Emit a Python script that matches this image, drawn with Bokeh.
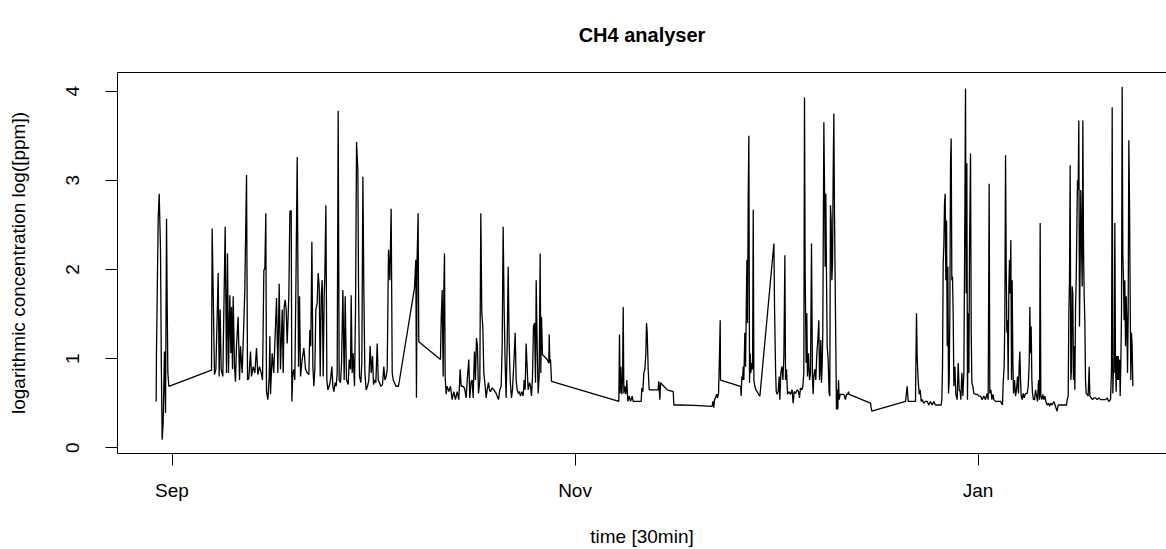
import pandas as pd
from bokeh.plotting import figure
from bokeh.models import Range1d, FixedTicker, DatetimeTickFormatter, LinearAxis, ColumnDataSource
from bokeh.embed import file_html
from bokeh.resources import INLINE

# ---- data ----
series_start = "2013-09-01"
# time of each reading, in days after series_start
day_offset = [
    -2.40, -2.35, -2.09, -1.94, -1.74, -1.62, -1.49, -1.34, -1.14, -0.98, -0.83, -0.73, -0.63, -0.48,
    5.98, 6.08, 6.43, 6.64, 6.99, 7.14, 7.29, 7.44, 7.69, 8.05, 8.25, 8.40, 8.55, 8.75, 8.91, 9.01, 9.16,
    9.26, 9.46, 9.61, 9.76, 10.01, 10.22, 10.37, 10.62, 10.87, 11.02, 11.28, 11.43, 11.63, 11.88,
    12.03, 12.29, 12.54, 12.79, 12.99, 13.24, 13.50, 13.70, 13.90, 14.05, 14.20, 14.30, 14.51,
    14.71, 14.81,
    14.91, 15.16, 15.40, 15.82, 16.02, 16.22, 16.42, 16.68, 16.83, 16.98, 17.13, 17.28, 17.43,
    17.68, 17.84, 18.04, 18.14, 18.29, 18.44, 18.59, 18.74, 18.95, 19.15, 19.30, 19.45, 19.70,
    19.96, 20.21, 20.46, 20.71, 20.86, 21.01, 21.17, 21.32, 21.47, 21.62, 21.77, 21.97, 22.12,
    22.28, 22.43, 22.58, 22.73, 22.88, 23.03, 23.13, 23.29, 23.44, 23.59, 23.79, 23.99, 24.19,
    24.35, 24.50, 24.70, 24.85, 25.00, 25.15, 25.30, 25.51, 25.66, 25.86, 26.06, 26.21, 26.41,
    26.67, 26.82, 27.02, 27.12, 27.27, 27.42, 27.62, 27.78, 27.93, 28.13, 28.23, 28.38, 28.58,
    28.73, 28.89, 29.04, 29.19, 29.39, 29.59, 29.79, 29.99, 30.15, 30.35, 30.50, 30.70, 30.85,
    31.06, 31.21, 31.41, 31.61, 31.86, 32.06, 32.22, 32.42, 32.57, 32.77, 32.97, 33.17, 33.33,
    33.48, 33.68, 33.88, 34.28,
    36.70, 36.90, 37.00, 37.10, 37.25, 37.35, 40.63, 40.74, 40.89, 41.04, 41.14, 41.24, 41.34,
    41.49, 41.64, 41.90, 42.15, 42.40, 42.65, 42.90, 43.16, 43.41, 43.61, 43.76, 44.01, 44.27,
    44.52, 44.67, 44.92, 45.07, 45.28, 45.43, 45.58, 45.78, 45.93, 46.08, 46.23, 46.39, 46.59,
    46.74, 46.89, 47.04, 47.19, 47.35, 47.55, 47.70, 47.90, 48.05, 48.20, 48.45, 48.71, 49.06,
    49.41, 49.62, 49.82, 49.97, 50.12, 50.27, 50.42, 50.57, 50.73, 50.88, 51.03, 51.18, 51.38,
    51.53, 51.74, 51.94, 52.09, 52.24, 52.44, 52.59, 52.74, 52.95, 53.15, 53.30, 53.45, 53.60,
    53.75, 53.90, 54.11,
    54.26, 54.41, 54.56, 54.71, 54.87, 55.02, 55.12, 55.27, 55.42, 55.57, 55.72, 55.82, 55.92,
    56.08, 56.28, 56.53, 56.78, 57.03, 57.09, 57.19, 57.29, 57.44, 67.63, 67.73, 67.83, 67.93,
    68.08, 68.19, 68.29, 68.39, 68.54, 68.69, 68.84, 68.99, 69.19, 69.40, 69.65, 69.80, 70.15,
    70.66, 71.01, 71.11, 71.26, 71.41, 71.57, 71.72, 71.82, 71.92, 72.07, 72.22, 72.68, 73.18,
    73.58, 73.68, 73.84, 73.94,
    74.19, 74.44, 74.95, 75.86, 75.96, 76.97, 78.99, 81.76, 81.86, 82.01, 82.11, 82.26, 82.42,
    82.57, 82.72, 82.87, 82.97, 83.02, 86.05, 86.15, 86.25, 86.35, 86.45, 86.55, 86.70, 86.81,
    86.91, 87.01, 87.11, 87.21, 87.31, 87.41, 87.51, 87.61, 87.76, 87.87, 87.97, 88.07, 88.22,
    88.37, 88.57, 88.77, 88.98, 91.10, 91.20, 91.35, 91.45, 91.60, 91.75, 91.90, 92.00, 92.15,
    92.31, 92.46, 92.61, 92.76, 92.86, 93.01, 93.16, 93.36, 93.62,
    93.86, 94.01, 94.17, 94.37, 94.62, 94.82, 94.97, 95.12, 95.33, 95.48, 95.63, 95.73, 95.83,
    95.98, 96.08, 96.18, 96.33, 96.49, 96.64, 96.79, 96.94, 97.04, 97.14, 97.29, 97.44, 97.60,
    97.75, 97.90, 98.00, 98.10, 98.20, 98.30, 98.40, 98.50, 98.66, 98.76, 98.86, 98.96, 99.06,
    99.16, 99.31, 99.46, 99.56, 99.66, 99.77, 99.87, 99.97, 100.07, 100.17, 100.27, 100.37,
    100.47, 100.57, 100.67, 100.77, 100.88, 100.98, 101.13, 101.43, 101.68, 101.93, 102.09,
    102.29, 102.39, 102.49, 105.72, 105.82, 105.92, 111.02, 111.27, 111.42, 112.53, 112.68,
    112.78, 112.93, 113.09, 113.24, 113.39, 113.54, 113.79, 114.04,
    114.30, 114.55, 114.80, 115.06, 115.31, 115.56, 115.81, 116.07, 116.42, 116.52, 116.62,
    116.72, 116.82, 116.92, 117.02, 117.12, 117.23, 117.33, 117.43, 117.53, 117.63, 117.73,
    117.83, 117.93, 118.03, 118.13, 118.23, 118.34, 118.49, 118.64, 118.84, 118.99, 119.14,
    119.29, 119.39, 119.55, 119.70, 119.85, 120.00, 120.10, 120.20, 120.30, 120.40, 120.50,
    120.61, 120.71, 120.86, 120.96, 121.06, 121.21, 121.36, 121.61, 121.87, 122.12, 122.37,
    122.62, 122.88, 123.13, 123.38, 123.53, 123.68, 123.78, 123.94, 124.09, 124.24, 124.39,
    124.64, 124.99, 125.40, 125.70, 125.80, 125.95, 126.05, 126.16, 126.26, 126.36, 126.46,
    126.56, 126.66, 126.76, 126.86, 126.96, 127.06, 127.16, 127.27, 127.37, 127.52, 127.67,
    127.82, 127.97, 128.12, 128.22, 128.32, 128.43, 128.53, 128.68, 128.83, 128.98, 129.13,
    129.28, 129.43, 129.59, 129.74, 129.84, 129.94, 130.04, 130.14, 130.24, 130.39, 130.55,
    130.70, 130.85, 131.00, 131.15, 131.30, 131.40, 131.50, 131.66, 131.81, 131.96, 132.11,
    132.26, 132.46, 132.66, 132.82, 132.97,
    133.22, 133.47, 133.72, 133.87, 133.97, 134.12, 134.38, 134.73, 135.08, 135.39, 135.49,
    135.64, 135.74, 135.84, 135.94, 136.04, 136.14, 136.24, 136.34, 136.44, 136.55, 136.65,
    136.75, 136.85, 136.95, 137.05, 137.15, 137.25, 137.35, 137.45, 137.55, 137.66, 137.76,
    137.86, 137.96, 138.06, 138.16, 138.26, 138.36, 138.51, 138.66, 138.82, 138.92, 139.12,
    139.32, 139.52, 139.78, 140.03, 140.28, 140.53, 140.79, 141.04, 141.29, 141.54, 141.79,
    142.05, 142.20, 142.30, 142.40, 142.50, 142.60, 142.70, 142.80, 142.90, 143.00, 143.10,
    143.21, 143.31, 143.41, 143.51, 143.61, 143.71, 143.81, 143.91, 144.01, 144.11, 144.21,
    144.32, 144.42, 144.52, 144.62, 144.72, 144.82, 144.92, 145.02, 145.12, 145.22, 145.32,
    145.43,
]
# logarithmic CH4 concentration log([ppm])
log_conc = [
    0.52, 1.08, 2.57, 2.85, 2.22, 0.95, 0.09, 0.28, 1.08, 0.39, 2.57, 1.62, 0.84, 0.69,
    0.87, 2.46, 0.82, 0.88, 1.96, 0.80, 1.55, 0.88, 0.80, 2.48, 0.84, 2.18, 0.84, 1.71, 1.06, 1.58, 0.88,
    1.70, 0.91, 0.74, 1.14, 1.47, 0.76, 1.14, 0.84, 1.40, 1.77, 3.06, 0.76, 0.78, 1.08,
    0.80, 0.91, 0.84, 1.12, 0.82, 0.91, 0.84, 0.76, 1.99, 2.01, 2.63, 0.63, 0.54,
    0.80, 1.25,
    0.60, 1.06, 0.84, 1.68, 0.84, 1.84, 0.88, 1.55, 0.84, 1.58, 1.66, 1.55, 1.17,
    1.70, 2.65, 2.66, 0.52, 0.84, 0.88, 0.76, 1.73, 3.26, 0.91, 1.70, 0.80, 0.99,
    1.12, 0.88, 0.84, 0.82, 1.32, 1.14, 2.31, 0.91, 0.69, 0.88, 1.55, 1.62, 1.96,
    1.81, 0.80, 1.70, 1.88, 0.80, 1.70, 1.92, 2.72, 0.76, 0.65, 0.69, 0.76, 0.91,
    0.69, 0.63, 0.73, 0.69, 0.84, 3.78, 0.76, 0.73, 0.95, 1.77, 0.76, 1.70, 0.76,
    0.71, 0.99, 0.88, 1.71, 0.84, 1.06, 0.69, 1.58, 3.43, 3.11, 1.81, 0.80, 0.73,
    0.95, 3.04, 1.73, 0.84, 0.65, 0.69, 0.76, 1.14, 0.84, 1.03, 0.71, 0.76, 0.73,
    1.17, 0.76, 0.73, 0.69, 0.71, 0.91, 0.76, 0.80, 0.88, 2.22, 1.88, 2.68, 0.84,
    0.76, 0.73, 0.69, 0.69,
    1.79, 2.11, 0.56, 2.14, 2.63, 1.19, 0.99, 1.43, 1.77, 0.80, 1.77, 2.18, 0.80,
    0.60, 0.69, 0.63, 0.69, 0.54, 0.63, 0.54, 0.63, 0.54, 0.88, 0.69, 0.69, 0.67,
    0.56, 0.745, 0.99, 0.56, 0.745, 0.76, 0.56, 1.08, 0.76, 1.23, 1.14, 0.61, 0.76,
    2.63, 1.51, 1.36, 0.84, 0.73, 0.56, 0.65, 0.73, 0.65, 0.63, 0.67, 0.65, 0.61,
    0.54, 0.65, 0.69, 1.14, 2.48, 1.55, 0.95, 0.56, 1.17, 2.03, 1.17, 0.76, 0.56,
    0.65, 0.95, 1.29, 0.76, 0.65, 0.61, 0.63, 0.58, 0.63, 0.58, 0.76, 0.65, 1.17,
    0.91, 0.65, 0.73,
    0.69, 0.58, 0.80, 1.36, 1.40, 0.73, 1.88, 1.14, 0.61, 0.80, 2.18, 0.84, 1.47,
    1.04, 1.03, 1.01, 0.99, 0.95, 1.27, 0.95, 0.99, 0.745, 0.52, 1.27, 0.61, 0.91,
    0.60, 0.76, 1.58, 0.61, 0.69, 0.60, 0.76, 0.52, 0.58, 0.52, 0.58, 0.52, 0.52,
    0.52, 0.52, 0.67, 0.63, 0.84, 0.88, 1.06, 1.40, 1.29, 0.88, 0.65, 0.65, 0.65,
    0.65, 0.745, 0.54, 0.73,
    0.71, 0.69, 0.65, 0.63, 0.48, 0.48, 0.475, 0.465, 0.52, 0.45, 0.54, 0.56, 0.60,
    0.56, 0.61, 1.06, 1.43, 0.76, 0.69, 0.58, 0.80, 0.76, 0.91, 0.76, 1.29, 0.91,
    1.51, 2.11, 1.40, 2.81, 3.50, 0.73, 1.06, 0.84, 0.95, 0.88, 2.67, 0.76, 0.69,
    0.65, 0.63, 0.60, 0.58, 2.29, 1.55, 0.88, 0.63, 0.60, 0.63, 0.80, 0.54, 0.84,
    0.91, 0.76, 1.03, 2.16, 0.76, 0.88, 0.60, 0.63, 0.60,
    0.65, 0.50, 0.63, 0.61, 0.65, 0.63, 0.56, 0.67, 0.65, 0.69, 0.84, 3.93, 1.96,
    0.95, 1.51, 0.80, 1.06, 0.76, 0.84, 2.29, 0.76, 0.60, 0.80, 0.88, 0.76, 1.06,
    1.21, 1.43, 0.76, 0.91, 1.21, 0.73, 0.91, 1.29, 3.65, 2.93, 2.03, 2.85, 1.92,
    1.14, 0.99, 0.61, 0.58, 2.72, 2.55, 1.88, 2.07, 3.08, 3.75, 2.63, 1.88,
    1.14, 0.43, 0.65, 0.43, 0.76, 0.54, 0.60, 0.60, 0.60, 0.54, 0.60,
    0.60, 0.63, 0.60, 0.50, 0.45, 0.41, 0.52, 0.69, 0.52, 0.52, 1.51,
    1.03, 0.76, 0.60, 0.65, 0.52, 0.54, 0.50, 0.52,
    0.52, 0.48, 0.52, 0.48, 0.52, 0.48, 0.48, 0.48, 0.48, 0.54, 0.91,
    2.07, 2.26, 2.74, 2.85, 1.88, 2.55, 1.14, 2.03, 0.61, 0.76, 1.51,
    3.19, 3.47, 1.88, 1.92, 1.51, 0.69, 0.91, 0.60, 0.54, 0.95, 0.65,
    0.63, 0.54, 0.84, 0.58, 0.84, 2.63, 4.03, 1.73, 3.19, 0.54, 1.51,
    0.84, 2.26, 3.30, 1.32, 0.73, 0.69, 0.61, 0.60, 0.60, 0.58, 0.58,
    0.54, 0.58, 0.54, 0.61, 0.54, 2.96, 0.61, 0.65, 0.54, 0.60, 0.54,
    0.52, 0.52, 0.52, 0.48, 0.73, 0.91, 1.43, 3.28, 2.03, 1.29, 1.43,
    0.76, 1.81, 2.11, 1.73, 2.33, 0.76, 1.88, 0.95, 0.61, 0.76, 0.58,
    0.65, 0.80, 0.61, 0.91, 1.08, 0.76, 0.58, 0.54, 0.61, 0.56, 0.60,
    0.61, 0.61, 0.69, 0.95, 1.58, 1.06, 1.36, 0.76, 0.61, 0.54, 0.54,
    0.65, 0.58, 0.52, 0.76, 0.54, 2.52, 0.58, 0.54, 0.60, 0.54, 0.58,
    0.52, 0.48, 0.50, 0.465, 0.50,
    0.48, 0.52, 0.465, 0.43, 0.41, 0.48, 0.48, 0.48, 0.48, 0.48, 0.54,
    0.58, 1.51, 1.88, 3.17, 0.76, 0.88, 1.81, 1.73, 0.76, 1.14, 0.65,
    1.55, 1.88, 2.44, 3.00, 2.89, 3.67, 1.36, 2.03, 2.89, 2.26, 1.81,
    3.67, 2.26, 1.70, 1.43, 0.76, 0.61, 0.60, 0.58, 0.91, 0.58, 0.56,
    0.54, 0.56, 0.56, 0.54, 0.56, 0.54, 0.54, 0.54, 0.54, 0.56, 0.52,
    0.54, 0.88, 3.82, 0.61, 0.91, 0.84, 2.52, 0.95, 0.63, 1.03, 0.76,
    1.03, 0.76, 0.99, 0.58, 0.95, 1.51, 4.05, 2.18, 1.88, 1.43, 1.88,
    1.14, 1.70, 1.43, 0.84, 1.51, 3.45, 2.78, 1.70, 0.76, 1.29, 1.14,
    0.69,
]
x_ticks = ["2013-09-01", "2013-11-01", "2014-01-01"]
y_ticks = [0, 1, 2, 3, 4]
title_text = "CH4 analyser"

FONT = "Liberation Sans"

start = pd.Timestamp(series_start)
times = start + pd.to_timedelta(day_offset, unit="D")
src = ColumnDataSource(dict(t=times, v=log_conc))

# R-style 4% padding: left of the first reading; the right side runs off the picture
x_lo = start + pd.Timedelta(days=-8.25)
x_hi = start + pd.Timedelta(days=150.52)
y_lo, y_hi = -0.064, 4.209

p = figure(width=1166, height=549, x_axis_type="datetime",
           x_range=Range1d(x_lo, x_hi), y_range=Range1d(y_lo, y_hi),
           output_backend="svg", toolbar_location=None,
           min_border_left=117, min_border_right=0, min_border_top=72, min_border_bottom=95)

p.line("t", "v", source=src, line_color="black", line_width=1.3)

p.grid.visible = False
p.outline_line_color = None
p.background_fill_color = "white"
p.border_fill_color = "white"

# x axis
p.xaxis.ticker = FixedTicker(ticks=[pd.Timestamp(d).value / 1e6 for d in x_ticks])
p.xaxis.formatter = DatetimeTickFormatter(days="%b", months="%b", years="%b", boundary_scaling=False)
p.xaxis.axis_label = "time [30min]"
# y axis
p.yaxis.ticker = FixedTicker(ticks=y_ticks)
p.yaxis.axis_label = "logarithmic concentration log([ppm])"
p.yaxis.major_label_orientation = "vertical"

for ax in (p.xaxis, p.yaxis):
    ax.axis_line_color = "black"
    ax.axis_line_width = 1
    ax.major_tick_line_color = "black"
    ax.major_tick_in = 0
    ax.major_tick_out = 12
    ax.minor_tick_line_color = None
    ax.major_label_text_font = FONT
    ax.major_label_text_font_size = "19px"
    ax.major_label_text_color = "black"
    ax.axis_label_text_font = FONT
    ax.axis_label_text_font_size = "19px"
    ax.axis_label_text_font_style = "normal"
    ax.axis_label_text_color = "black"

p.xaxis.major_label_standoff = 14
p.xaxis.axis_label_standoff = 22
p.yaxis.major_label_standoff = 26
p.yaxis.axis_label_standoff = 35

# top edge of the box, carrying the main title above it
top = LinearAxis(ticker=FixedTicker(ticks=[]), major_label_text_font_size="0px",
                 major_tick_line_color=None, minor_tick_line_color=None,
                 major_tick_out=0, major_tick_in=0, major_label_standoff=0,
                 axis_line_color="black",
                 axis_label=title_text, axis_label_standoff=27,
                 axis_label_text_font=FONT, axis_label_text_font_size="20px",
                 axis_label_text_font_style="bold", axis_label_text_color="black")
p.add_layout(top, "above")

open("out.html", "w").write(file_html(p, INLINE))
